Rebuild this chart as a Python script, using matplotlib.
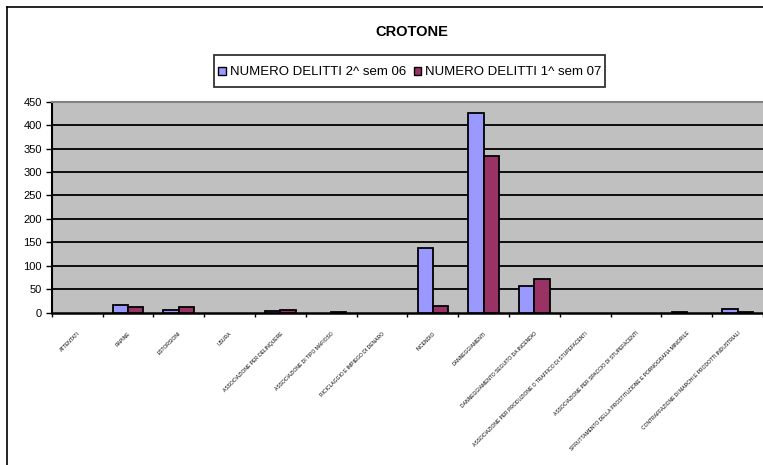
import matplotlib
matplotlib.use("Agg")
import matplotlib.pyplot as plt
import numpy as np
from matplotlib.patches import Patch, Rectangle
from matplotlib.lines import Line2D
from matplotlib.legend_handler import HandlerPatch

plt.rcParams['font.family'] = ['Liberation Sans', 'DejaVu Sans']

title = "CROTONE"
categories = [
    "ATTENTATI",
    "RAPINE",
    "ESTORSIONI",
    "USURA",
    "ASSOCIAZIONE PER DELINQUERE",
    "ASSOCIAZIONE DI TIPO MAFIOSO",
    "RICICLAGGIO E IMPIEGO DI DENARO",
    "INCENDIO",
    "DANNEGGIAMENTI",
    "DANNEGGIAMENTO SEGUITO DA INCENDIO",
    "ASSOCIAZIONE PER PRODUZIONE O TRAFFICO DI STUPEFACENTI",
    "ASSOCIAZIONE PER SPACCIO DI STUPEFACENTI",
    "SFRUTTAMENTO DELLA PROSTITUZIONE E PORNOGRAFIA MINORILE",
    "CONTRAFFAZIONE DI MARCHI E PRODOTTI INDUSTRIALI",
]
series_names = ["NUMERO DELITTI 2^ sem 06", "NUMERO DELITTI 1^ sem 07"]
sem2_06 = [0, 17, 6, 0, 4, 0, 0, 139, 425, 57, 0, 0, 2, 8]
sem1_07 = [0, 13, 13, 0, 6, 2, 0, 15, 335, 71, 0, 0, 0, 2]
yticks = [0, 50, 100, 150, 200, 250, 300, 350, 400, 450]

colors = ["#9999FF", "#993366"]

W, H = 763, 465
fig = plt.figure(figsize=(W / 100, H / 100), dpi=100)

# outer chart border
fig.add_artist(Line2D([7 / W, 7 / W], [0, 1 - 7 / H], transform=fig.transFigure, color="black", lw=1.2))
fig.add_artist(Line2D([7 / W, 1], [1 - 7 / H, 1 - 7 / H], transform=fig.transFigure, color="black", lw=1.2))

left, right = 51.7 / W, 1.0
bottom, top = 1 - 312.7 / H, 1 - 101.7 / H
ax = fig.add_axes([left, bottom, right - left, top - bottom])
ax.set_facecolor("#C0C0C0")

x = np.arange(len(categories)) + 0.5
bw = 0.3
for vals, off, col in [(sem2_06, -bw / 2, colors[0]), (sem1_07, bw / 2, colors[1])]:
    ec = ["black" if v > 0 else "none" for v in vals]
    ax.bar(x + off, vals, width=bw, color=col, edgecolor=ec, linewidth=1.3, zorder=3)

ax.set_xlim(0, len(categories))
ax.set_ylim(0, 450)
ax.set_yticks(yticks)
ax.set_yticklabels([str(v) for v in yticks], fontsize=8)
for v in yticks[1:-1]:
    ax.axhline(v, color="black", lw=1.3, zorder=1)

ax.set_xticks(np.arange(len(categories) + 1))
ax.set_xticklabels([])
ax.set_xticks(x, minor=True)
ax.set_xticklabels(categories, minor=True, rotation=45, ha="right", va="top",
                   rotation_mode="anchor", fontsize=3.6,
                   family=["Liberation Sans Narrow", "Liberation Sans", "DejaVu Sans"])
ax.tick_params(axis="x", which="minor", length=0, pad=13)
ax.tick_params(axis="x", which="major", length=3, width=1, direction="out")
ax.tick_params(axis="y", length=4, width=1, direction="out", pad=3)

ax.spines["right"].set_visible(False)
ax.spines["top"].set_color("#808080")
ax.spines["top"].set_linewidth(1.5)
ax.spines["left"].set_linewidth(1.5)
ax.spines["bottom"].set_linewidth(1.8)

fig.text(412 / W, 1 - 32 / H, title, ha="center", va="center", fontsize=10.5, fontweight="bold")


def small_square(legend, orig_handle, xdescent, ydescent, width, height, fontsize):
    s = 5.5
    return Rectangle((-xdescent + (width - s) / 2, -ydescent + (height - s) / 2), s, s)


handles = [Patch(facecolor=c, edgecolor="black", linewidth=1) for c in colors]
leg = fig.legend(handles, series_names, loc="center", bbox_to_anchor=(409.5 / W, 1 - 71 / H),
                 ncol=2, fontsize=9.5, frameon=True, fancybox=False, shadow=False,
                 handlelength=0.7, handleheight=2.5, handletextpad=0.25, columnspacing=0.5,
                 borderpad=0.25, borderaxespad=0,
                 handler_map={Patch: HandlerPatch(patch_func=small_square)})
leg.get_frame().set_edgecolor("black")
leg.get_frame().set_linewidth(1.3)

fig.savefig("out.png", dpi=100)
